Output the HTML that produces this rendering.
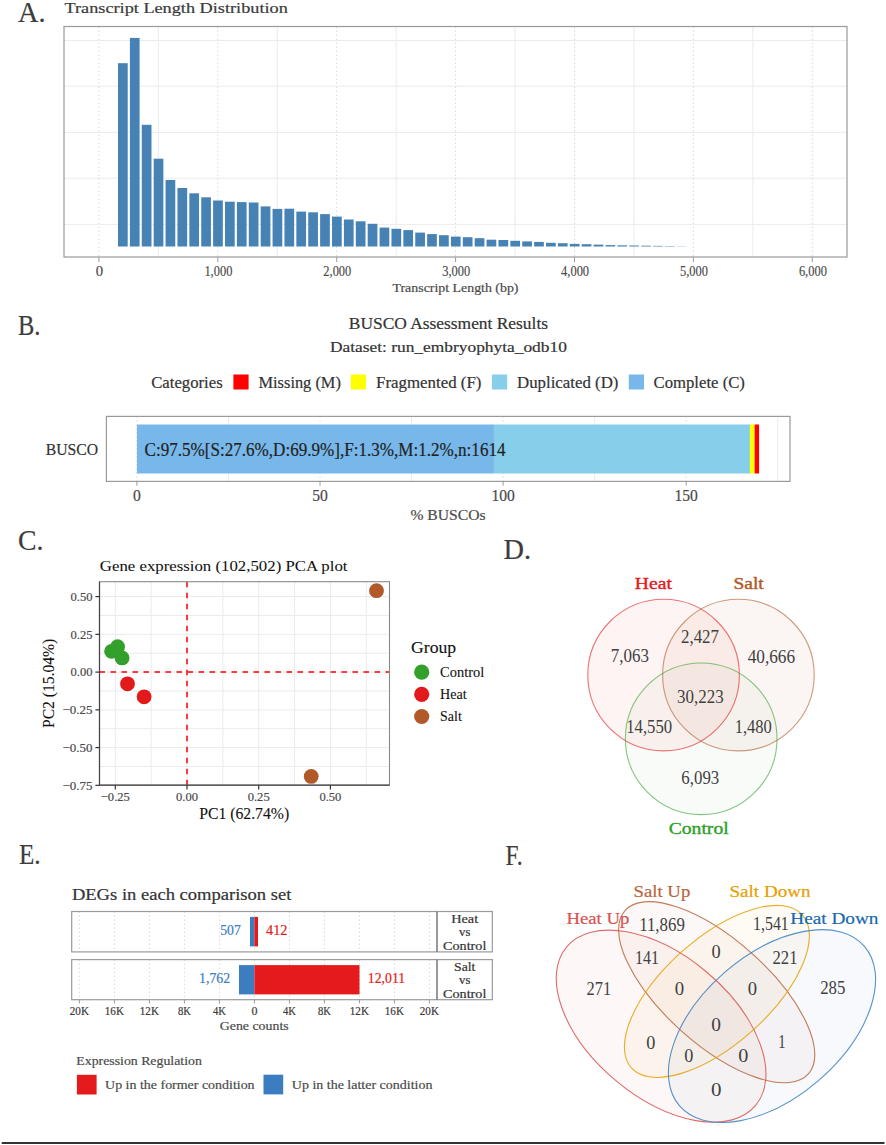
<!DOCTYPE html>
<html><head><meta charset="utf-8"><style>
html,body{margin:0;padding:0;background:#fff;}
svg{display:block;font-family:"Liberation Serif", serif;}
</style></head><body>
<svg width="886" height="1145" viewBox="0 0 886 1145">
<rect width="886" height="1145" fill="#fff"/>
<text x="18.0" y="21.7" font-size="29.5" fill="#3c3c3c" stroke="#3c3c3c" stroke-width="0.2" text-anchor="start" font-weight="normal" textLength="27.5" lengthAdjust="spacingAndGlyphs">A.</text>
<text x="64.5" y="13.0" font-size="15.4" fill="#3a3a3a" stroke="#3a3a3a" stroke-width="0.2" text-anchor="start" font-weight="normal" textLength="223.3" lengthAdjust="spacingAndGlyphs">Transcript Length Distribution</text>
<line x1="64.00" y1="40.50" x2="847.00" y2="40.50" stroke="#ebebeb" stroke-width="1"/>
<line x1="64.00" y1="86.20" x2="847.00" y2="86.20" stroke="#ebebeb" stroke-width="1"/>
<line x1="64.00" y1="132.40" x2="847.00" y2="132.40" stroke="#ebebeb" stroke-width="1"/>
<line x1="64.00" y1="178.20" x2="847.00" y2="178.20" stroke="#ebebeb" stroke-width="1"/>
<line x1="64.00" y1="224.40" x2="847.00" y2="224.40" stroke="#ebebeb" stroke-width="1"/>
<line x1="158.35" y1="26.50" x2="158.35" y2="257.00" stroke="#ebebeb" stroke-width="1"/>
<line x1="277.25" y1="26.50" x2="277.25" y2="257.00" stroke="#ebebeb" stroke-width="1"/>
<line x1="396.15" y1="26.50" x2="396.15" y2="257.00" stroke="#ebebeb" stroke-width="1"/>
<line x1="515.05" y1="26.50" x2="515.05" y2="257.00" stroke="#ebebeb" stroke-width="1"/>
<line x1="633.95" y1="26.50" x2="633.95" y2="257.00" stroke="#ebebeb" stroke-width="1"/>
<line x1="752.85" y1="26.50" x2="752.85" y2="257.00" stroke="#ebebeb" stroke-width="1"/>
<line x1="98.90" y1="26.50" x2="98.90" y2="257.00" stroke="#d9d9d9" stroke-width="1" stroke-dasharray="1.5 2.5"/>
<line x1="217.80" y1="26.50" x2="217.80" y2="257.00" stroke="#d9d9d9" stroke-width="1" stroke-dasharray="1.5 2.5"/>
<line x1="336.70" y1="26.50" x2="336.70" y2="257.00" stroke="#d9d9d9" stroke-width="1" stroke-dasharray="1.5 2.5"/>
<line x1="455.60" y1="26.50" x2="455.60" y2="257.00" stroke="#d9d9d9" stroke-width="1" stroke-dasharray="1.5 2.5"/>
<line x1="574.50" y1="26.50" x2="574.50" y2="257.00" stroke="#d9d9d9" stroke-width="1" stroke-dasharray="1.5 2.5"/>
<line x1="693.40" y1="26.50" x2="693.40" y2="257.00" stroke="#d9d9d9" stroke-width="1" stroke-dasharray="1.5 2.5"/>
<line x1="812.30" y1="26.50" x2="812.30" y2="257.00" stroke="#d9d9d9" stroke-width="1" stroke-dasharray="1.5 2.5"/>
<rect x="118.00" y="63.20" width="9.70" height="183.30" fill="#4682b4"/>
<rect x="129.89" y="37.90" width="9.70" height="208.60" fill="#4682b4"/>
<rect x="141.78" y="124.80" width="9.70" height="121.70" fill="#4682b4"/>
<rect x="153.67" y="158.70" width="9.70" height="87.80" fill="#4682b4"/>
<rect x="165.56" y="180.00" width="9.70" height="66.50" fill="#4682b4"/>
<rect x="177.45" y="188.00" width="9.70" height="58.50" fill="#4682b4"/>
<rect x="189.34" y="193.30" width="9.70" height="53.20" fill="#4682b4"/>
<rect x="201.23" y="197.30" width="9.70" height="49.20" fill="#4682b4"/>
<rect x="213.12" y="200.50" width="9.70" height="46.00" fill="#4682b4"/>
<rect x="225.01" y="201.70" width="9.70" height="44.80" fill="#4682b4"/>
<rect x="236.90" y="202.10" width="9.70" height="44.40" fill="#4682b4"/>
<rect x="248.79" y="202.50" width="9.70" height="44.00" fill="#4682b4"/>
<rect x="260.68" y="206.40" width="9.70" height="40.10" fill="#4682b4"/>
<rect x="272.57" y="208.90" width="9.70" height="37.60" fill="#4682b4"/>
<rect x="284.46" y="208.70" width="9.70" height="37.80" fill="#4682b4"/>
<rect x="296.35" y="211.60" width="9.70" height="34.90" fill="#4682b4"/>
<rect x="308.24" y="212.30" width="9.70" height="34.20" fill="#4682b4"/>
<rect x="320.13" y="214.10" width="9.70" height="32.40" fill="#4682b4"/>
<rect x="332.02" y="216.60" width="9.70" height="29.90" fill="#4682b4"/>
<rect x="343.91" y="219.50" width="9.70" height="27.00" fill="#4682b4"/>
<rect x="355.80" y="221.30" width="9.70" height="25.20" fill="#4682b4"/>
<rect x="367.69" y="223.80" width="9.70" height="22.70" fill="#4682b4"/>
<rect x="379.58" y="227.60" width="9.70" height="18.90" fill="#4682b4"/>
<rect x="391.47" y="228.80" width="9.70" height="17.70" fill="#4682b4"/>
<rect x="403.36" y="230.10" width="9.70" height="16.40" fill="#4682b4"/>
<rect x="415.25" y="232.60" width="9.70" height="13.90" fill="#4682b4"/>
<rect x="427.14" y="234.10" width="9.70" height="12.40" fill="#4682b4"/>
<rect x="439.03" y="235.20" width="9.70" height="11.30" fill="#4682b4"/>
<rect x="450.92" y="236.60" width="9.70" height="9.90" fill="#4682b4"/>
<rect x="462.81" y="237.20" width="9.70" height="9.30" fill="#4682b4"/>
<rect x="474.70" y="238.20" width="9.70" height="8.30" fill="#4682b4"/>
<rect x="486.59" y="239.70" width="9.70" height="6.80" fill="#4682b4"/>
<rect x="498.48" y="240.00" width="9.70" height="6.50" fill="#4682b4"/>
<rect x="510.37" y="240.80" width="9.70" height="5.70" fill="#4682b4"/>
<rect x="522.26" y="241.40" width="9.70" height="5.10" fill="#4682b4"/>
<rect x="534.15" y="241.90" width="9.70" height="4.60" fill="#4682b4"/>
<rect x="546.04" y="242.80" width="9.70" height="3.70" fill="#4682b4"/>
<rect x="557.93" y="243.20" width="9.70" height="3.30" fill="#4682b4"/>
<rect x="569.82" y="243.90" width="9.70" height="2.60" fill="#4682b4"/>
<rect x="581.71" y="244.20" width="9.70" height="2.30" fill="#4682b4"/>
<rect x="593.60" y="244.60" width="9.70" height="1.90" fill="#4682b4"/>
<rect x="605.49" y="245.10" width="9.70" height="1.40" fill="#4682b4"/>
<rect x="617.38" y="245.30" width="9.70" height="1.20" fill="#4682b4"/>
<rect x="629.27" y="245.50" width="9.70" height="1.00" fill="#4682b4"/>
<rect x="641.16" y="245.70" width="9.70" height="0.80" fill="#4682b4"/>
<rect x="653.05" y="245.90" width="9.70" height="0.60" fill="#4682b4"/>
<rect x="664.94" y="246.10" width="9.70" height="0.40" fill="#4682b4"/>
<rect x="676.83" y="246.30" width="9.70" height="0.20" fill="#4682b4"/>
<rect x="64" y="26.5" width="783" height="230.5" fill="none" stroke="#9a9a9a" stroke-width="1.2"/>
<line x1="98.90" y1="257.00" x2="98.90" y2="262.00" stroke="#9a9a9a" stroke-width="1"/>
<text x="99.5" y="275.6" font-size="14" fill="#4a4a4a" stroke="#4a4a4a" stroke-width="0.15" text-anchor="middle" font-weight="normal" textLength="7.4" lengthAdjust="spacingAndGlyphs">0</text>
<line x1="217.80" y1="257.00" x2="217.80" y2="262.00" stroke="#9a9a9a" stroke-width="1"/>
<text x="218.4" y="275.6" font-size="14" fill="#4a4a4a" stroke="#4a4a4a" stroke-width="0.15" text-anchor="middle" font-weight="normal" textLength="28.0" lengthAdjust="spacingAndGlyphs">1,000</text>
<line x1="336.70" y1="257.00" x2="336.70" y2="262.00" stroke="#9a9a9a" stroke-width="1"/>
<text x="337.3" y="275.6" font-size="14" fill="#4a4a4a" stroke="#4a4a4a" stroke-width="0.15" text-anchor="middle" font-weight="normal" textLength="28.0" lengthAdjust="spacingAndGlyphs">2,000</text>
<line x1="455.60" y1="257.00" x2="455.60" y2="262.00" stroke="#9a9a9a" stroke-width="1"/>
<text x="456.2" y="275.6" font-size="14" fill="#4a4a4a" stroke="#4a4a4a" stroke-width="0.15" text-anchor="middle" font-weight="normal" textLength="28.0" lengthAdjust="spacingAndGlyphs">3,000</text>
<line x1="574.50" y1="257.00" x2="574.50" y2="262.00" stroke="#9a9a9a" stroke-width="1"/>
<text x="575.1" y="275.6" font-size="14" fill="#4a4a4a" stroke="#4a4a4a" stroke-width="0.15" text-anchor="middle" font-weight="normal" textLength="28.0" lengthAdjust="spacingAndGlyphs">4,000</text>
<line x1="693.40" y1="257.00" x2="693.40" y2="262.00" stroke="#9a9a9a" stroke-width="1"/>
<text x="694.0" y="275.6" font-size="14" fill="#4a4a4a" stroke="#4a4a4a" stroke-width="0.15" text-anchor="middle" font-weight="normal" textLength="28.0" lengthAdjust="spacingAndGlyphs">5,000</text>
<line x1="812.30" y1="257.00" x2="812.30" y2="262.00" stroke="#9a9a9a" stroke-width="1"/>
<text x="812.9" y="275.6" font-size="14" fill="#4a4a4a" stroke="#4a4a4a" stroke-width="0.15" text-anchor="middle" font-weight="normal" textLength="28.0" lengthAdjust="spacingAndGlyphs">6,000</text>
<text x="455.5" y="291.8" font-size="12.5" fill="#4a4a4a" stroke="#4a4a4a" stroke-width="0.2" text-anchor="middle" font-weight="normal" textLength="126.0" lengthAdjust="spacingAndGlyphs">Transcript Length (bp)</text>
<text x="18.0" y="334.7" font-size="29.5" fill="#3c3c3c" stroke="#3c3c3c" stroke-width="0.2" text-anchor="start" font-weight="normal" textLength="22.5" lengthAdjust="spacingAndGlyphs">B.</text>
<text x="448.4" y="328.6" font-size="15.8" fill="#333" stroke="#333" stroke-width="0.2" text-anchor="middle" font-weight="normal" textLength="199.2" lengthAdjust="spacingAndGlyphs">BUSCO Assessment Results</text>
<text x="448.4" y="351.6" font-size="15.3" fill="#333" stroke="#333" stroke-width="0.2" text-anchor="middle" font-weight="normal" textLength="237.0" lengthAdjust="spacingAndGlyphs">Dataset: run_embryophyta_odb10</text>
<text x="151.2" y="387.8" font-size="16.3" fill="#333" stroke="#333" stroke-width="0.2" text-anchor="start" font-weight="normal" textLength="71.5" lengthAdjust="spacingAndGlyphs">Categories</text>
<rect x="233.40" y="374.50" width="15.20" height="15.00" fill="#ff0000"/>
<text x="258.5" y="387.8" font-size="16.3" fill="#333" stroke="#333" stroke-width="0.2" text-anchor="start" font-weight="normal" textLength="82.4" lengthAdjust="spacingAndGlyphs">Missing (M)</text>
<rect x="350.80" y="374.50" width="15.20" height="15.00" fill="#ffff00"/>
<text x="376.1" y="387.8" font-size="16.3" fill="#333" stroke="#333" stroke-width="0.2" text-anchor="start" font-weight="normal" textLength="105.3" lengthAdjust="spacingAndGlyphs">Fragmented (F)</text>
<rect x="492.00" y="374.50" width="15.20" height="15.00" fill="#87ceeb"/>
<text x="517.0" y="387.8" font-size="16.3" fill="#333" stroke="#333" stroke-width="0.2" text-anchor="start" font-weight="normal" textLength="101.4" lengthAdjust="spacingAndGlyphs">Duplicated (D)</text>
<rect x="628.80" y="374.50" width="15.20" height="15.00" fill="#77b7ea"/>
<text x="653.5" y="387.8" font-size="16.3" fill="#333" stroke="#333" stroke-width="0.2" text-anchor="start" font-weight="normal" textLength="91.4" lengthAdjust="spacingAndGlyphs">Complete (C)</text>
<line x1="228.45" y1="416.40" x2="228.45" y2="481.40" stroke="#ebebeb" stroke-width="1"/>
<line x1="411.55" y1="416.40" x2="411.55" y2="481.40" stroke="#ebebeb" stroke-width="1"/>
<line x1="594.65" y1="416.40" x2="594.65" y2="481.40" stroke="#ebebeb" stroke-width="1"/>
<line x1="777.75" y1="416.40" x2="777.75" y2="481.40" stroke="#ebebeb" stroke-width="1"/>
<line x1="136.90" y1="416.40" x2="136.90" y2="481.40" stroke="#d9d9d9" stroke-width="1" stroke-dasharray="1.5 2.5"/>
<line x1="320.00" y1="416.40" x2="320.00" y2="481.40" stroke="#d9d9d9" stroke-width="1" stroke-dasharray="1.5 2.5"/>
<line x1="503.10" y1="416.40" x2="503.10" y2="481.40" stroke="#d9d9d9" stroke-width="1" stroke-dasharray="1.5 2.5"/>
<line x1="686.20" y1="416.40" x2="686.20" y2="481.40" stroke="#d9d9d9" stroke-width="1" stroke-dasharray="1.5 2.5"/>
<rect x="136.90" y="424.50" width="357.05" height="49.00" fill="#77b7ea"/>
<rect x="493.95" y="424.50" width="255.97" height="49.00" fill="#87ceeb"/>
<rect x="749.92" y="424.50" width="4.76" height="49.00" fill="#ffff00"/>
<rect x="754.68" y="424.50" width="4.39" height="49.00" fill="#ff0000"/>
<rect x="106.4" y="416.4" width="683.6" height="65.0" fill="none" stroke="#9a9a9a" stroke-width="1.2"/>
<text x="144.5" y="455.6" font-size="18.2" fill="#222" stroke="#222" stroke-width="0.2" text-anchor="start" font-weight="normal" textLength="361.0" lengthAdjust="spacingAndGlyphs">C:97.5%[S:27.6%,D:69.9%],F:1.3%,M:1.2%,n:1614</text>
<text x="98.1" y="455.0" font-size="16.6" fill="#333" stroke="#333" stroke-width="0.2" text-anchor="end" font-weight="normal" textLength="52.4" lengthAdjust="spacingAndGlyphs">BUSCO</text>
<line x1="136.90" y1="481.40" x2="136.90" y2="485.60" stroke="#9a9a9a" stroke-width="1"/>
<text x="136.9" y="501.1" font-size="16.4" fill="#4a4a4a" stroke="#4a4a4a" stroke-width="0.2" text-anchor="middle" font-weight="normal" textLength="7.8" lengthAdjust="spacingAndGlyphs">0</text>
<line x1="320.00" y1="481.40" x2="320.00" y2="485.60" stroke="#9a9a9a" stroke-width="1"/>
<text x="320.0" y="501.1" font-size="16.4" fill="#4a4a4a" stroke="#4a4a4a" stroke-width="0.2" text-anchor="middle" font-weight="normal" textLength="15.6" lengthAdjust="spacingAndGlyphs">50</text>
<line x1="503.10" y1="481.40" x2="503.10" y2="485.60" stroke="#9a9a9a" stroke-width="1"/>
<text x="503.1" y="501.1" font-size="16.4" fill="#4a4a4a" stroke="#4a4a4a" stroke-width="0.2" text-anchor="middle" font-weight="normal" textLength="23.4" lengthAdjust="spacingAndGlyphs">100</text>
<line x1="686.20" y1="481.40" x2="686.20" y2="485.60" stroke="#9a9a9a" stroke-width="1"/>
<text x="686.2" y="501.1" font-size="16.4" fill="#4a4a4a" stroke="#4a4a4a" stroke-width="0.2" text-anchor="middle" font-weight="normal" textLength="23.4" lengthAdjust="spacingAndGlyphs">150</text>
<text x="448.0" y="519.6" font-size="15" fill="#4a4a4a" stroke="#4a4a4a" stroke-width="0.2" text-anchor="middle" font-weight="normal" textLength="75.2" lengthAdjust="spacingAndGlyphs">% BUSCOs</text>
<text x="18.0" y="550.3" font-size="29.5" fill="#3c3c3c" stroke="#3c3c3c" stroke-width="0.2" text-anchor="start" font-weight="normal" textLength="25.5" lengthAdjust="spacingAndGlyphs">C.</text>
<text x="99.8" y="570.7" font-size="15" fill="#111" stroke="#111" stroke-width="0.05" text-anchor="start" font-weight="normal" textLength="247.7" lengthAdjust="spacingAndGlyphs">Gene expression (102,502) PCA plot</text>
<line x1="115.30" y1="581.70" x2="115.30" y2="785.20" stroke="#ebebeb" stroke-width="1"/>
<line x1="151.15" y1="581.70" x2="151.15" y2="785.20" stroke="#ebebeb" stroke-width="1"/>
<line x1="187.00" y1="581.70" x2="187.00" y2="785.20" stroke="#ebebeb" stroke-width="1"/>
<line x1="222.85" y1="581.70" x2="222.85" y2="785.20" stroke="#ebebeb" stroke-width="1"/>
<line x1="258.70" y1="581.70" x2="258.70" y2="785.20" stroke="#ebebeb" stroke-width="1"/>
<line x1="294.55" y1="581.70" x2="294.55" y2="785.20" stroke="#ebebeb" stroke-width="1"/>
<line x1="330.40" y1="581.70" x2="330.40" y2="785.20" stroke="#ebebeb" stroke-width="1"/>
<line x1="366.25" y1="581.70" x2="366.25" y2="785.20" stroke="#ebebeb" stroke-width="1"/>
<line x1="99.50" y1="766.48" x2="389.50" y2="766.48" stroke="#ebebeb" stroke-width="1"/>
<line x1="99.50" y1="747.60" x2="389.50" y2="747.60" stroke="#ebebeb" stroke-width="1"/>
<line x1="99.50" y1="728.73" x2="389.50" y2="728.73" stroke="#ebebeb" stroke-width="1"/>
<line x1="99.50" y1="709.85" x2="389.50" y2="709.85" stroke="#ebebeb" stroke-width="1"/>
<line x1="99.50" y1="690.98" x2="389.50" y2="690.98" stroke="#ebebeb" stroke-width="1"/>
<line x1="99.50" y1="672.10" x2="389.50" y2="672.10" stroke="#ebebeb" stroke-width="1"/>
<line x1="99.50" y1="653.23" x2="389.50" y2="653.23" stroke="#ebebeb" stroke-width="1"/>
<line x1="99.50" y1="634.35" x2="389.50" y2="634.35" stroke="#ebebeb" stroke-width="1"/>
<line x1="99.50" y1="615.48" x2="389.50" y2="615.48" stroke="#ebebeb" stroke-width="1"/>
<line x1="99.50" y1="596.60" x2="389.50" y2="596.60" stroke="#ebebeb" stroke-width="1"/>
<line x1="187.00" y1="581.70" x2="187.00" y2="785.20" stroke="#ff0000" stroke-width="1.5" stroke-dasharray="5.5 5.5"/>
<line x1="99.50" y1="672.10" x2="389.50" y2="672.10" stroke="#ff0000" stroke-width="1.5" stroke-dasharray="5.5 5.5"/>
<circle cx="111.6" cy="651.3" r="7.4" fill="#33a02c"/>
<circle cx="117.6" cy="646.7" r="7.4" fill="#33a02c"/>
<circle cx="122.1" cy="657.9" r="7.4" fill="#33a02c"/>
<circle cx="127.5" cy="683.8" r="7.4" fill="#e31a1c"/>
<circle cx="144.1" cy="696.8" r="7.4" fill="#e31a1c"/>
<circle cx="376.5" cy="590.7" r="7.4" fill="#b15928"/>
<circle cx="311.2" cy="776.4" r="7.4" fill="#b15928"/>
<rect x="99.5" y="581.7" width="290.0" height="203.5" fill="none" stroke="#8a8a8a" stroke-width="1.1"/>
<line x1="99.50" y1="581.70" x2="99.50" y2="785.20" stroke="#444" stroke-width="1.2"/>
<line x1="99.50" y1="785.20" x2="389.50" y2="785.20" stroke="#444" stroke-width="1.2"/>
<line x1="95.40" y1="596.60" x2="99.50" y2="596.60" stroke="#333" stroke-width="1.2"/>
<text x="92.5" y="600.9" font-size="13" fill="#4a4a4a" stroke="#4a4a4a" stroke-width="0.2" text-anchor="end" font-weight="normal" textLength="22.0" lengthAdjust="spacingAndGlyphs">0.50</text>
<line x1="95.40" y1="634.35" x2="99.50" y2="634.35" stroke="#333" stroke-width="1.2"/>
<text x="92.5" y="638.6" font-size="13" fill="#4a4a4a" stroke="#4a4a4a" stroke-width="0.2" text-anchor="end" font-weight="normal" textLength="22.0" lengthAdjust="spacingAndGlyphs">0.25</text>
<line x1="95.40" y1="672.10" x2="99.50" y2="672.10" stroke="#333" stroke-width="1.2"/>
<text x="92.5" y="676.4" font-size="13" fill="#4a4a4a" stroke="#4a4a4a" stroke-width="0.2" text-anchor="end" font-weight="normal" textLength="22.0" lengthAdjust="spacingAndGlyphs">0.00</text>
<line x1="95.40" y1="709.85" x2="99.50" y2="709.85" stroke="#333" stroke-width="1.2"/>
<text x="92.5" y="714.1" font-size="13" fill="#4a4a4a" stroke="#4a4a4a" stroke-width="0.2" text-anchor="end" font-weight="normal" textLength="30.0" lengthAdjust="spacingAndGlyphs">−0.25</text>
<line x1="95.40" y1="747.60" x2="99.50" y2="747.60" stroke="#333" stroke-width="1.2"/>
<text x="92.5" y="751.9" font-size="13" fill="#4a4a4a" stroke="#4a4a4a" stroke-width="0.2" text-anchor="end" font-weight="normal" textLength="30.0" lengthAdjust="spacingAndGlyphs">−0.50</text>
<line x1="95.40" y1="785.35" x2="99.50" y2="785.35" stroke="#333" stroke-width="1.2"/>
<text x="92.5" y="789.6" font-size="13" fill="#4a4a4a" stroke="#4a4a4a" stroke-width="0.2" text-anchor="end" font-weight="normal" textLength="30.0" lengthAdjust="spacingAndGlyphs">−0.75</text>
<line x1="115.30" y1="785.20" x2="115.30" y2="789.50" stroke="#333" stroke-width="1.2"/>
<text x="115.3" y="801.2" font-size="13" fill="#4a4a4a" stroke="#4a4a4a" stroke-width="0.2" text-anchor="middle" font-weight="normal" textLength="29.0" lengthAdjust="spacingAndGlyphs">−0.25</text>
<line x1="187.00" y1="785.20" x2="187.00" y2="789.50" stroke="#333" stroke-width="1.2"/>
<text x="187.0" y="801.2" font-size="13" fill="#4a4a4a" stroke="#4a4a4a" stroke-width="0.2" text-anchor="middle" font-weight="normal" textLength="22.0" lengthAdjust="spacingAndGlyphs">0.00</text>
<line x1="258.70" y1="785.20" x2="258.70" y2="789.50" stroke="#333" stroke-width="1.2"/>
<text x="258.7" y="801.2" font-size="13" fill="#4a4a4a" stroke="#4a4a4a" stroke-width="0.2" text-anchor="middle" font-weight="normal" textLength="22.0" lengthAdjust="spacingAndGlyphs">0.25</text>
<line x1="330.40" y1="785.20" x2="330.40" y2="789.50" stroke="#333" stroke-width="1.2"/>
<text x="330.4" y="801.2" font-size="13" fill="#4a4a4a" stroke="#4a4a4a" stroke-width="0.2" text-anchor="middle" font-weight="normal" textLength="22.0" lengthAdjust="spacingAndGlyphs">0.50</text>
<text x="244.2" y="818.9" font-size="16" fill="#111" stroke="#111" stroke-width="0.1" text-anchor="middle" font-weight="normal" textLength="90.0" lengthAdjust="spacingAndGlyphs">PC1 (62.74%)</text>
<g transform="translate(54,683.4) rotate(-90)">
<text x="0.0" y="0.0" font-size="16" fill="#111" stroke="#111" stroke-width="0.1" text-anchor="middle" font-weight="normal" textLength="89.3" lengthAdjust="spacingAndGlyphs">PC2 (15.04%)</text>
</g>
<text x="411.1" y="652.7" font-size="16.5" fill="#111" stroke="#111" stroke-width="0.1" text-anchor="start" font-weight="normal" textLength="45.1" lengthAdjust="spacingAndGlyphs">Group</text>
<circle cx="421.7" cy="672.2" r="7.6" fill="#33a02c"/>
<text x="440.1" y="676.9" font-size="14.7" fill="#111" stroke="#111" stroke-width="0.1" text-anchor="start" font-weight="normal" textLength="44.1" lengthAdjust="spacingAndGlyphs">Control</text>
<circle cx="421.7" cy="694.3" r="7.6" fill="#e31a1c"/>
<text x="440.1" y="699.0" font-size="14.7" fill="#111" stroke="#111" stroke-width="0.1" text-anchor="start" font-weight="normal" textLength="26.7" lengthAdjust="spacingAndGlyphs">Heat</text>
<circle cx="421.7" cy="716.5" r="7.6" fill="#b15928"/>
<text x="440.1" y="721.2" font-size="14.7" fill="#111" stroke="#111" stroke-width="0.1" text-anchor="start" font-weight="normal" textLength="21.7" lengthAdjust="spacingAndGlyphs">Salt</text>
<text x="503.5" y="558.6" font-size="29.5" fill="#3c3c3c" stroke="#3c3c3c" stroke-width="0.2" text-anchor="start" font-weight="normal" textLength="27.5" lengthAdjust="spacingAndGlyphs">D.</text>
<circle cx="663.6" cy="675.1" r="75.8" fill="#e8341c" fill-opacity="0.055"/>
<circle cx="738.4" cy="675.1" r="75.8" fill="#b15928" fill-opacity="0.055"/>
<circle cx="701.2" cy="738.8" r="75.8" fill="#60905a" fill-opacity="0.04"/>
<circle cx="663.6" cy="675.1" r="75.8" fill="none" stroke="#e31a1c" stroke-opacity="0.6" stroke-width="1.1"/>
<circle cx="738.4" cy="675.1" r="75.8" fill="none" stroke="#b15928" stroke-opacity="0.6" stroke-width="1.1"/>
<circle cx="701.2" cy="738.8" r="75.8" fill="none" stroke="#33a02c" stroke-opacity="0.6" stroke-width="1.1"/>
<text x="653.3" y="589.0" font-size="17" fill="#e31a1c" stroke="#e31a1c" stroke-width="0.4" text-anchor="middle" font-weight="normal" textLength="37.1" lengthAdjust="spacingAndGlyphs">Heat</text>
<text x="748.6" y="589.3" font-size="17" fill="#b15928" stroke="#b15928" stroke-width="0.4" text-anchor="middle" font-weight="normal" textLength="30.3" lengthAdjust="spacingAndGlyphs">Salt</text>
<text x="698.7" y="833.8" font-size="17.5" fill="#33a02c" stroke="#33a02c" stroke-width="0.4" text-anchor="middle" font-weight="normal" textLength="60.0" lengthAdjust="spacingAndGlyphs">Control</text>
<text x="629.8" y="661.8" font-size="18.5" fill="#404040" text-anchor="middle" font-weight="normal" textLength="38.2" lengthAdjust="spacingAndGlyphs">7,063</text>
<text x="700.0" y="642.8" font-size="18.5" fill="#404040" text-anchor="middle" font-weight="normal" textLength="37.9" lengthAdjust="spacingAndGlyphs">2,427</text>
<text x="771.4" y="662.9" font-size="18.5" fill="#404040" text-anchor="middle" font-weight="normal" textLength="47.4" lengthAdjust="spacingAndGlyphs">40,666</text>
<text x="700.4" y="702.5" font-size="18.5" fill="#404040" text-anchor="middle" font-weight="normal" textLength="46.6" lengthAdjust="spacingAndGlyphs">30,223</text>
<text x="649.2" y="733.0" font-size="18.5" fill="#404040" text-anchor="middle" font-weight="normal" textLength="46.0" lengthAdjust="spacingAndGlyphs">14,550</text>
<text x="753.3" y="733.0" font-size="18.5" fill="#404040" text-anchor="middle" font-weight="normal" textLength="37.1" lengthAdjust="spacingAndGlyphs">1,480</text>
<text x="700.3" y="784.0" font-size="18.5" fill="#404040" text-anchor="middle" font-weight="normal" textLength="37.9" lengthAdjust="spacingAndGlyphs">6,093</text>
<text x="19.0" y="863.7" font-size="29.5" fill="#3c3c3c" stroke="#3c3c3c" stroke-width="0.2" text-anchor="start" font-weight="normal" textLength="21.6" lengthAdjust="spacingAndGlyphs">E.</text>
<text x="71.9" y="899.8" font-size="16.6" fill="#333" stroke="#333" stroke-width="0.2" text-anchor="start" font-weight="normal" textLength="219.5" lengthAdjust="spacingAndGlyphs">DEGs in each comparison set</text>
<line x1="79.40" y1="911.50" x2="79.40" y2="951.90" stroke="#d9d9d9" stroke-width="1" stroke-dasharray="1.5 2.5"/>
<line x1="114.40" y1="911.50" x2="114.40" y2="951.90" stroke="#d9d9d9" stroke-width="1" stroke-dasharray="1.5 2.5"/>
<line x1="149.40" y1="911.50" x2="149.40" y2="951.90" stroke="#d9d9d9" stroke-width="1" stroke-dasharray="1.5 2.5"/>
<line x1="184.40" y1="911.50" x2="184.40" y2="951.90" stroke="#d9d9d9" stroke-width="1" stroke-dasharray="1.5 2.5"/>
<line x1="219.40" y1="911.50" x2="219.40" y2="951.90" stroke="#d9d9d9" stroke-width="1" stroke-dasharray="1.5 2.5"/>
<line x1="254.40" y1="911.50" x2="254.40" y2="951.90" stroke="#d9d9d9" stroke-width="1" stroke-dasharray="1.5 2.5"/>
<line x1="289.40" y1="911.50" x2="289.40" y2="951.90" stroke="#d9d9d9" stroke-width="1" stroke-dasharray="1.5 2.5"/>
<line x1="324.40" y1="911.50" x2="324.40" y2="951.90" stroke="#d9d9d9" stroke-width="1" stroke-dasharray="1.5 2.5"/>
<line x1="359.40" y1="911.50" x2="359.40" y2="951.90" stroke="#d9d9d9" stroke-width="1" stroke-dasharray="1.5 2.5"/>
<line x1="394.40" y1="911.50" x2="394.40" y2="951.90" stroke="#d9d9d9" stroke-width="1" stroke-dasharray="1.5 2.5"/>
<line x1="429.40" y1="911.50" x2="429.40" y2="951.90" stroke="#d9d9d9" stroke-width="1" stroke-dasharray="1.5 2.5"/>
<line x1="79.40" y1="959.60" x2="79.40" y2="999.70" stroke="#d9d9d9" stroke-width="1" stroke-dasharray="1.5 2.5"/>
<line x1="114.40" y1="959.60" x2="114.40" y2="999.70" stroke="#d9d9d9" stroke-width="1" stroke-dasharray="1.5 2.5"/>
<line x1="149.40" y1="959.60" x2="149.40" y2="999.70" stroke="#d9d9d9" stroke-width="1" stroke-dasharray="1.5 2.5"/>
<line x1="184.40" y1="959.60" x2="184.40" y2="999.70" stroke="#d9d9d9" stroke-width="1" stroke-dasharray="1.5 2.5"/>
<line x1="219.40" y1="959.60" x2="219.40" y2="999.70" stroke="#d9d9d9" stroke-width="1" stroke-dasharray="1.5 2.5"/>
<line x1="254.40" y1="959.60" x2="254.40" y2="999.70" stroke="#d9d9d9" stroke-width="1" stroke-dasharray="1.5 2.5"/>
<line x1="289.40" y1="959.60" x2="289.40" y2="999.70" stroke="#d9d9d9" stroke-width="1" stroke-dasharray="1.5 2.5"/>
<line x1="324.40" y1="959.60" x2="324.40" y2="999.70" stroke="#d9d9d9" stroke-width="1" stroke-dasharray="1.5 2.5"/>
<line x1="359.40" y1="959.60" x2="359.40" y2="999.70" stroke="#d9d9d9" stroke-width="1" stroke-dasharray="1.5 2.5"/>
<line x1="394.40" y1="959.60" x2="394.40" y2="999.70" stroke="#d9d9d9" stroke-width="1" stroke-dasharray="1.5 2.5"/>
<line x1="429.40" y1="959.60" x2="429.40" y2="999.70" stroke="#d9d9d9" stroke-width="1" stroke-dasharray="1.5 2.5"/>
<rect x="249.96" y="916.90" width="4.44" height="29.50" fill="#3b7dc0"/>
<rect x="254.40" y="916.90" width="3.60" height="29.50" fill="#e41a1c"/>
<rect x="238.98" y="965.10" width="15.42" height="29.30" fill="#3b7dc0"/>
<rect x="254.40" y="965.10" width="105.10" height="29.30" fill="#e41a1c"/>
<rect x="71.7" y="911.5" width="420.6" height="40.4" fill="none" stroke="#9a9a9a" stroke-width="1.2"/>
<line x1="437.00" y1="911.50" x2="437.00" y2="951.90" stroke="#777" stroke-width="1.5"/>
<rect x="71.7" y="959.6" width="420.6" height="40.1" fill="none" stroke="#9a9a9a" stroke-width="1.2"/>
<line x1="437.00" y1="959.60" x2="437.00" y2="999.70" stroke="#777" stroke-width="1.5"/>
<text x="230.5" y="935.3" font-size="14" fill="#3b7dc0" stroke="#3b7dc0" stroke-width="0.2" text-anchor="middle" font-weight="normal" textLength="20.6" lengthAdjust="spacingAndGlyphs">507</text>
<text x="276.8" y="935.3" font-size="14" fill="#e41a1c" stroke="#e41a1c" stroke-width="0.2" text-anchor="middle" font-weight="normal" textLength="21.4" lengthAdjust="spacingAndGlyphs">412</text>
<text x="214.6" y="983.2" font-size="14" fill="#3b7dc0" stroke="#3b7dc0" stroke-width="0.2" text-anchor="middle" font-weight="normal" textLength="31.0" lengthAdjust="spacingAndGlyphs">1,762</text>
<text x="386.5" y="983.2" font-size="14" fill="#e41a1c" stroke="#e41a1c" stroke-width="0.2" text-anchor="middle" font-weight="normal" textLength="37.3" lengthAdjust="spacingAndGlyphs">12,011</text>
<text x="464.7" y="922.6" font-size="12.5" fill="#333" stroke="#333" stroke-width="0.2" text-anchor="middle" font-weight="normal" textLength="27.0" lengthAdjust="spacingAndGlyphs">Heat</text>
<text x="464.7" y="935.7" font-size="12.5" fill="#333" stroke="#333" stroke-width="0.2" text-anchor="middle" font-weight="normal" textLength="11.3" lengthAdjust="spacingAndGlyphs">vs</text>
<text x="464.7" y="949.7" font-size="12.5" fill="#333" stroke="#333" stroke-width="0.2" text-anchor="middle" font-weight="normal" textLength="43.4" lengthAdjust="spacingAndGlyphs">Control</text>
<text x="464.7" y="970.5" font-size="12.5" fill="#333" stroke="#333" stroke-width="0.2" text-anchor="middle" font-weight="normal" textLength="21.4" lengthAdjust="spacingAndGlyphs">Salt</text>
<text x="464.7" y="983.6" font-size="12.5" fill="#333" stroke="#333" stroke-width="0.2" text-anchor="middle" font-weight="normal" textLength="11.3" lengthAdjust="spacingAndGlyphs">vs</text>
<text x="464.7" y="997.6" font-size="12.5" fill="#333" stroke="#333" stroke-width="0.2" text-anchor="middle" font-weight="normal" textLength="43.4" lengthAdjust="spacingAndGlyphs">Control</text>
<line x1="79.40" y1="999.70" x2="79.40" y2="1003.50" stroke="#9a9a9a" stroke-width="1"/>
<text x="79.4" y="1014.8" font-size="12.2" fill="#3a3a3a" stroke="#3a3a3a" stroke-width="0.2" text-anchor="middle" font-weight="normal" textLength="19.2" lengthAdjust="spacingAndGlyphs">20K</text>
<line x1="114.40" y1="999.70" x2="114.40" y2="1003.50" stroke="#9a9a9a" stroke-width="1"/>
<text x="114.4" y="1014.8" font-size="12.2" fill="#3a3a3a" stroke="#3a3a3a" stroke-width="0.2" text-anchor="middle" font-weight="normal" textLength="19.2" lengthAdjust="spacingAndGlyphs">16K</text>
<line x1="149.40" y1="999.70" x2="149.40" y2="1003.50" stroke="#9a9a9a" stroke-width="1"/>
<text x="149.4" y="1014.8" font-size="12.2" fill="#3a3a3a" stroke="#3a3a3a" stroke-width="0.2" text-anchor="middle" font-weight="normal" textLength="19.2" lengthAdjust="spacingAndGlyphs">12K</text>
<line x1="184.40" y1="999.70" x2="184.40" y2="1003.50" stroke="#9a9a9a" stroke-width="1"/>
<text x="184.4" y="1014.8" font-size="12.2" fill="#3a3a3a" stroke="#3a3a3a" stroke-width="0.2" text-anchor="middle" font-weight="normal" textLength="13.0" lengthAdjust="spacingAndGlyphs">8K</text>
<line x1="219.40" y1="999.70" x2="219.40" y2="1003.50" stroke="#9a9a9a" stroke-width="1"/>
<text x="219.4" y="1014.8" font-size="12.2" fill="#3a3a3a" stroke="#3a3a3a" stroke-width="0.2" text-anchor="middle" font-weight="normal" textLength="13.0" lengthAdjust="spacingAndGlyphs">4K</text>
<line x1="254.40" y1="999.70" x2="254.40" y2="1003.50" stroke="#9a9a9a" stroke-width="1"/>
<text x="254.4" y="1014.8" font-size="12.2" fill="#3a3a3a" stroke="#3a3a3a" stroke-width="0.2" text-anchor="middle" font-weight="normal" textLength="6.0" lengthAdjust="spacingAndGlyphs">0</text>
<line x1="289.40" y1="999.70" x2="289.40" y2="1003.50" stroke="#9a9a9a" stroke-width="1"/>
<text x="289.4" y="1014.8" font-size="12.2" fill="#3a3a3a" stroke="#3a3a3a" stroke-width="0.2" text-anchor="middle" font-weight="normal" textLength="13.0" lengthAdjust="spacingAndGlyphs">4K</text>
<line x1="324.40" y1="999.70" x2="324.40" y2="1003.50" stroke="#9a9a9a" stroke-width="1"/>
<text x="324.4" y="1014.8" font-size="12.2" fill="#3a3a3a" stroke="#3a3a3a" stroke-width="0.2" text-anchor="middle" font-weight="normal" textLength="13.0" lengthAdjust="spacingAndGlyphs">8K</text>
<line x1="359.40" y1="999.70" x2="359.40" y2="1003.50" stroke="#9a9a9a" stroke-width="1"/>
<text x="359.4" y="1014.8" font-size="12.2" fill="#3a3a3a" stroke="#3a3a3a" stroke-width="0.2" text-anchor="middle" font-weight="normal" textLength="19.2" lengthAdjust="spacingAndGlyphs">12K</text>
<line x1="394.40" y1="999.70" x2="394.40" y2="1003.50" stroke="#9a9a9a" stroke-width="1"/>
<text x="394.4" y="1014.8" font-size="12.2" fill="#3a3a3a" stroke="#3a3a3a" stroke-width="0.2" text-anchor="middle" font-weight="normal" textLength="19.2" lengthAdjust="spacingAndGlyphs">16K</text>
<line x1="429.40" y1="999.70" x2="429.40" y2="1003.50" stroke="#9a9a9a" stroke-width="1"/>
<text x="429.4" y="1014.8" font-size="12.2" fill="#3a3a3a" stroke="#3a3a3a" stroke-width="0.2" text-anchor="middle" font-weight="normal" textLength="19.2" lengthAdjust="spacingAndGlyphs">20K</text>
<text x="254.2" y="1029.6" font-size="12.5" fill="#4a4a4a" stroke="#4a4a4a" stroke-width="0.2" text-anchor="middle" font-weight="normal" textLength="68.9" lengthAdjust="spacingAndGlyphs">Gene counts</text>
<text x="76.3" y="1065.3" font-size="13" fill="#4a4a4a" stroke="#4a4a4a" stroke-width="0.2" text-anchor="start" font-weight="normal" textLength="125.5" lengthAdjust="spacingAndGlyphs">Expression Regulation</text>
<rect x="76.90" y="1074.80" width="19.70" height="19.70" fill="#e41a1c"/>
<text x="105.1" y="1088.8" font-size="13" fill="#4a4a4a" stroke="#4a4a4a" stroke-width="0.2" text-anchor="start" font-weight="normal" textLength="149.5" lengthAdjust="spacingAndGlyphs">Up in the former condition</text>
<rect x="263.50" y="1074.70" width="19.70" height="19.70" fill="#3b7dc0"/>
<text x="291.8" y="1088.8" font-size="13" fill="#4a4a4a" stroke="#4a4a4a" stroke-width="0.2" text-anchor="start" font-weight="normal" textLength="140.6" lengthAdjust="spacingAndGlyphs">Up in the latter condition</text>
<line x1="1.70" y1="1143.00" x2="884.50" y2="1143.00" stroke="#333" stroke-width="2"/>
<text x="505.6" y="864.6" font-size="29.5" fill="#3c3c3c" stroke="#3c3c3c" stroke-width="0.2" text-anchor="start" font-weight="normal" textLength="17.0" lengthAdjust="spacingAndGlyphs">F.</text>
<ellipse cx="661.1" cy="1026.2" rx="123.3" ry="70.8" transform="rotate(40 661.1 1026.2)" fill="#d9534f" fill-opacity="0.045"/>
<ellipse cx="716.7" cy="992.2" rx="122.8" ry="52.4" transform="rotate(41.7 716.7 992.2)" fill="#b9653d" fill-opacity="0.045"/>
<ellipse cx="716.9" cy="991.4" rx="114.7" ry="53.0" transform="rotate(138.2 716.9 991.4)" fill="#e69f00" fill-opacity="0.045"/>
<ellipse cx="772.0" cy="1026.1" rx="122.1" ry="71.6" transform="rotate(139.2 772.0 1026.1)" fill="#3a7fc1" fill-opacity="0.045"/>
<ellipse cx="661.1" cy="1026.2" rx="123.3" ry="70.8" transform="rotate(40 661.1 1026.2)" fill="none" stroke="#d9534f" stroke-opacity="0.85" stroke-width="1.1"/>
<ellipse cx="716.7" cy="992.2" rx="122.8" ry="52.4" transform="rotate(41.7 716.7 992.2)" fill="none" stroke="#b9653d" stroke-opacity="0.85" stroke-width="1.1"/>
<ellipse cx="716.9" cy="991.4" rx="114.7" ry="53.0" transform="rotate(138.2 716.9 991.4)" fill="none" stroke="#e69f00" stroke-opacity="0.85" stroke-width="1.1"/>
<ellipse cx="772.0" cy="1026.1" rx="122.1" ry="71.6" transform="rotate(139.2 772.0 1026.1)" fill="none" stroke="#3a7fc1" stroke-opacity="0.85" stroke-width="1.1"/>
<text x="597.9" y="924.0" font-size="16.8" fill="#d9534f" stroke="#d9534f" stroke-width="0.2" text-anchor="middle" font-weight="normal" textLength="63.0" lengthAdjust="spacingAndGlyphs">Heat Up</text>
<text x="661.9" y="897.2" font-size="16.8" fill="#b9653d" stroke="#b9653d" stroke-width="0.2" text-anchor="middle" font-weight="normal" textLength="56.8" lengthAdjust="spacingAndGlyphs">Salt Up</text>
<text x="770.0" y="896.8" font-size="16.8" fill="#e69f00" stroke="#e69f00" stroke-width="0.2" text-anchor="middle" font-weight="normal" textLength="81.2" lengthAdjust="spacingAndGlyphs">Salt Down</text>
<text x="834.4" y="924.1" font-size="16.8" fill="#1769b0" stroke="#1769b0" stroke-width="0.2" text-anchor="middle" font-weight="normal" textLength="88.2" lengthAdjust="spacingAndGlyphs">Heat Down</text>
<text x="662.0" y="931.1" font-size="18.4" fill="#404040" text-anchor="middle" font-weight="normal" textLength="45.7" lengthAdjust="spacingAndGlyphs">11,869</text>
<text x="770.9" y="930.4" font-size="18.4" fill="#404040" text-anchor="middle" font-weight="normal" textLength="35.7" lengthAdjust="spacingAndGlyphs">1,541</text>
<text x="647.0" y="964.2" font-size="18.4" fill="#404040" text-anchor="middle" font-weight="normal" textLength="23.9" lengthAdjust="spacingAndGlyphs">141</text>
<text x="785.0" y="964.4" font-size="18.4" fill="#404040" text-anchor="middle" font-weight="normal" textLength="24.9" lengthAdjust="spacingAndGlyphs">221</text>
<text x="598.9" y="995.1" font-size="18.4" fill="#404040" text-anchor="middle" font-weight="normal" textLength="24.6" lengthAdjust="spacingAndGlyphs">271</text>
<text x="832.8" y="994.4" font-size="18.4" fill="#404040" text-anchor="middle" font-weight="normal" textLength="25.2" lengthAdjust="spacingAndGlyphs">285</text>
<text x="716.2" y="957.7" font-size="18.4" fill="#404040" text-anchor="middle" font-weight="normal" textLength="9.2" lengthAdjust="spacingAndGlyphs">0</text>
<text x="679.5" y="994.5" font-size="18.4" fill="#404040" text-anchor="middle" font-weight="normal" textLength="9.4" lengthAdjust="spacingAndGlyphs">0</text>
<text x="752.5" y="994.5" font-size="18.4" fill="#404040" text-anchor="middle" font-weight="normal" textLength="9.3" lengthAdjust="spacingAndGlyphs">0</text>
<text x="716.0" y="1031.1" font-size="18.4" fill="#404040" text-anchor="middle" font-weight="normal" textLength="9.7" lengthAdjust="spacingAndGlyphs">0</text>
<text x="650.8" y="1048.8" font-size="18.4" fill="#404040" text-anchor="middle" font-weight="normal" textLength="9.1" lengthAdjust="spacingAndGlyphs">0</text>
<text x="781.9" y="1048.3" font-size="18.4" fill="#404040" text-anchor="middle" font-weight="normal" textLength="7.3" lengthAdjust="spacingAndGlyphs">1</text>
<text x="688.8" y="1062.0" font-size="18.4" fill="#404040" text-anchor="middle" font-weight="normal" textLength="9.1" lengthAdjust="spacingAndGlyphs">0</text>
<text x="743.3" y="1061.9" font-size="18.4" fill="#404040" text-anchor="middle" font-weight="normal" textLength="10.1" lengthAdjust="spacingAndGlyphs">0</text>
<text x="716.2" y="1095.5" font-size="18.4" fill="#404040" text-anchor="middle" font-weight="normal" textLength="10.5" lengthAdjust="spacingAndGlyphs">0</text>
</svg></body></html>
